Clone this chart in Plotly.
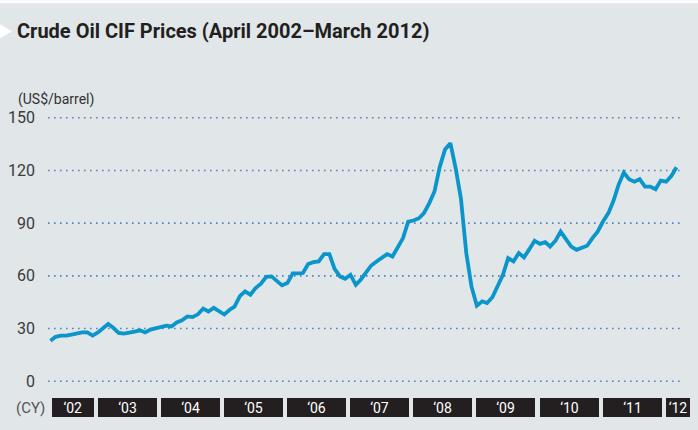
import plotly.graph_objects as go
import pandas as pd

# ---------------- data ----------------
start_month = "2002-04"
end_month = "2012-03"
prices = [
    # 2002 Apr-Dec
    23.1, 25.3, 26.0, 26.0, 26.6, 27.2, 27.8, 27.8, 26.0,
    # 2003
    27.8, 30.3, 32.6, 30.3, 27.5, 27.1, 27.5, 28.2, 29.0, 27.8, 29.4, 30.0,
    # 2004
    30.5, 31.6, 31.2, 33.5, 34.7, 36.9, 36.5, 38.1, 41.3, 39.7, 41.8, 39.8,
    # 2005
    38.0, 40.7, 42.5, 48.5, 51.2, 49.3, 53.0, 55.5, 59.5, 59.7, 57.2, 54.6,
    # 2006
    55.9, 61.4, 61.4, 61.6, 66.7, 67.8, 68.2, 72.4, 72.4, 64.0, 59.7, 58.3,
    # 2007
    60.6, 54.9, 57.8, 61.6, 65.9, 68.2, 70.0, 72.4, 71.0, 75.8, 81.5, 90.9,
    # 2008
    91.5, 92.8, 95.7, 101.4, 108.0, 122.2, 132.0, 135.5, 121.0, 104.0, 73.0, 54.0,
    # 2009
    43.0, 45.5, 44.5, 47.8, 54.5, 60.6, 70.1, 68.2, 73.0, 70.5, 75.2, 80.0,
    # 2010
    78.2, 79.2, 76.7, 80.0, 85.2, 80.5, 76.7, 74.8, 75.8, 77.1, 81.5, 85.2,
    # 2011
    90.9, 95.7, 102.3, 111.8, 118.8, 115.0, 113.6, 115.0, 110.8, 110.8, 109.3, 114.2,
    # 2012 Jan-Mar
    113.6, 116.9, 121.8,
]
years = list(range(2002, 2013))
year_labels = ["\u201802", "\u201803", "\u201804", "\u201805", "\u201806", "\u201807",
               "\u201808", "\u201809", "\u201810", "\u201811", "\u201812"]
y_ticks = [0, 30, 60, 90, 120, 150]

title_text = "Crude Oil CIF Prices (April 2002\u2013March 2012)"
unit_text = "(US$/barrel)"
cy_text = "(CY)"

# ---------------- layout geometry ----------------
W, H = 698, 430
L, R = 48, 682          # plot area, px
T, B = 116.0, 383.5     # plot area, px
x_start = pd.Timestamp("2002-04-01")
x_end = pd.Timestamp("2012-04-16")

months = pd.date_range(start_month + "-01", end_month + "-01", freq="MS") + pd.Timedelta(days=14)


def px_of(d):
    return L + (pd.Timestamp(d) - x_start) / (x_end - x_start) * (R - L)


def fx(px):
    return (px - L) / (R - L)


def fy(py):
    return (B - py) / (B - T)


FONT = "Roboto, Liberation Sans, sans-serif"
BG = "#e1e6e9"
LINE = "#0a95cb"
GRID = "#4f84c4"

fig = go.Figure()
fig.add_trace(go.Scatter(
    x=months, y=prices, mode="lines",
    line=dict(color=LINE, width=3.8),
    hoverinfo="skip", showlegend=False,
))

annotations = []
shapes = []

# dotted horizontal grid lines spanning exactly the plot area
for v in y_ticks:
    shapes.append(dict(
        type="line", xref="paper", yref="y", x0=0, x1=1, y0=v, y1=v,
        line=dict(color=GRID, width=1.6, dash="1.6px,4.4px"), layer="below",
    ))

# year boxes along the bottom
box_top, box_bot = 399, 418
for yr, lab in zip(years, year_labels):
    left = px_of(max(pd.Timestamp(f"{yr}-01-01"), x_start))
    left += 4 if yr == years[0] else 2
    if yr == years[-1]:
        right = left + 24
    else:
        right = px_of(pd.Timestamp(f"{yr + 1}-01-01")) - 2
    cx = (left + right) / 2
    annotations.append(dict(
        x=fx(cx), y=fy((box_top + box_bot) / 2), xref="paper", yref="paper",
        xanchor="center", yanchor="middle", showarrow=False,
        text=lab, font=dict(family=FONT, size=14, color="white"),
        bgcolor="#231f20", width=right - left, height=box_bot - box_top,
        borderpad=0, borderwidth=0,
    ))

annotations.append(dict(
    x=fx(47), y=fy(409), xref="paper", yref="paper", xanchor="right", yanchor="middle",
    showarrow=False, text=cy_text, font=dict(family=FONT, size=15, color="#555555"),
))
annotations.append(dict(
    x=fx(16), y=fy(99), xref="paper", yref="paper", xanchor="left", yanchor="middle",
    showarrow=False, text=unit_text, font=dict(family=FONT, size=14, color="#333333"),
))

# thin white strip along the top edge
shapes.append(dict(
    type="rect", xref="paper", yref="paper",
    x0=fx(0), x1=fx(W), y0=fy(3), y1=fy(0),
    fillcolor="white", line=dict(width=0), layer="below",
))
# white pointer at the title
shapes.append(dict(
    type="path", xref="paper", yref="paper",
    path=f"M {fx(0)},{fy(24)} L {fx(12)},{fy(31)} L {fx(0)},{fy(38)} Z",
    fillcolor="white", line=dict(width=0), layer="below",
))

fig.update_layout(
    width=W, height=H,
    margin=dict(l=L, r=W - R, t=T, b=H - B, pad=0, autoexpand=False),
    paper_bgcolor=BG, plot_bgcolor=BG,
    title=dict(
        text=f"<b>{title_text}</b>", x=17 / W, xref="container", xanchor="left",
        y=1 - 31 / H, yref="container", yanchor="middle",
        font=dict(family=FONT, size=20, color="#231f20"),
    ),
    xaxis=dict(
        type="date", range=[x_start, x_end], showticklabels=False,
        showgrid=False, zeroline=False, showline=False, ticks="", automargin=False,
    ),
    yaxis=dict(
        range=[-1, 151], tickvals=y_ticks, ticktext=[str(v) for v in y_ticks],
        showgrid=False, zeroline=False, showline=False, ticks="", automargin=False,
        ticklabelstandoff=12,
        tickfont=dict(family=FONT, size=16, color="#3a3a3a"),
    ),
    annotations=annotations,
    shapes=shapes,
)

fig.write_html(
    "out.html",
    config={"displayModeBar": False, "staticPlot": True},
    post_script="document.body.style.margin='0';document.body.style.overflow='hidden';",
)
